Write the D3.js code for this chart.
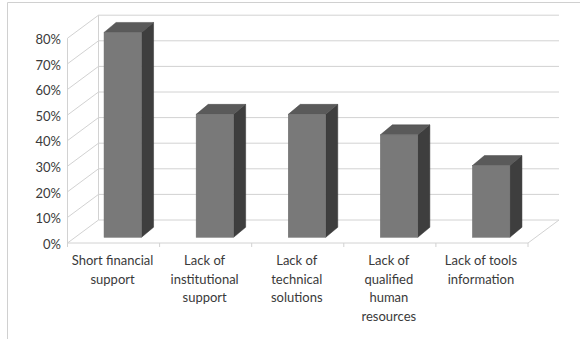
<!DOCTYPE html>
<html><head><meta charset="utf-8">
<script src="https://cdn.jsdelivr.net/npm/d3@7/dist/d3.min.js"></script>
<style>body{margin:0;background:#fff}svg{display:block}text{font-family:Lato,"Open Sans",sans-serif;fill:#3a3a3a}</style>
</head><body>
<script>
const categories = ["Short financial\nsupport", "Lack of\ninstitutional\nsupport", "Lack of\ntechnical\nsolutions", "Lack of\nqualified\nhuman\nresources", "Lack of tools\ninformation"];
const values = [0.80, 0.48, 0.48, 0.40, 0.28];
const yTicks = [0, 0.1, 0.2, 0.3, 0.4, 0.5, 0.6, 0.7, 0.8];

const W = 580, H = 339;
const svg = d3.select("body").append("svg").attr("width", W).attr("height", H);

// frame
svg.append("path").attr("d", `M7.5,${H} V2.5 H${W}`).attr("fill","none").attr("stroke","#d0d0d0").attr("stroke-width",1);

const x0 = 67.5, x1 = 528, yBase = 243, yTop = 38.2;
const DX = 31, DY = -23;
const x = d3.scaleBand().domain(categories).range([x0, x1]).paddingInner(0).paddingOuter(0);
const y = d3.scaleLinear().domain([0, 0.8]).range([yBase, yTop]);

const grid = svg.append("g").attr("stroke","#d2d2d2").attr("stroke-width",1).attr("fill","none");
// back wall gridlines
yTicks.forEach(t => {
  grid.append("line").attr("x1", x0+DX).attr("x2", x1+DX).attr("y1", y(t)+DY).attr("y2", y(t)+DY);
  grid.append("line").attr("x1", x0).attr("x2", x0+DX).attr("y1", y(t)).attr("y2", y(t)+DY);
});
// walls
grid.append("line").attr("x1", x0+DX).attr("x2", x0+DX).attr("y1", y(0.8)+DY).attr("y2", y(0)+DY);
grid.append("line").attr("x1", x0).attr("x2", x0).attr("y1", y(0.8)).attr("y2", y(0));
grid.append("line").attr("x1", x0).attr("x2", x1).attr("y1", y(0)).attr("y2", y(0));
grid.append("line").attr("x1", x1).attr("x2", x1+DX).attr("y1", y(0)).attr("y2", y(0)+DY);
// category ticks
const tickXs = categories.map(c => x(c)).concat([x1]);
tickXs.forEach(tx => grid.append("line").attr("x1", tx).attr("x2", tx).attr("y1", y(0)).attr("y2", y(0)+4));

// y labels
svg.append("g").selectAll("text").data(yTicks).join("text")
  .attr("x", 61).attr("y", d => y(d)+2.5).attr("text-anchor","end").attr("dominant-baseline","middle")
  .attr("font-size", 13).text(d3.format(".0%"));

// bars
const fd = 0.25; // front depth fraction
const bw = 37.5, bdx = 12, bdy = -10;
const bars = svg.append("g");
categories.forEach((c, i) => {
  const cx = x(c) + x.bandwidth()/2 + DX*fd + 1.5;
  const l = cx - bw/2, r = cx + bw/2;
  const yb = y(0) + DY*fd, yt = y(values[i]) + DY*fd;
  // side
  bars.append("path").attr("d", `M${r},${yb} L${r+bdx},${yb+bdy} L${r+bdx},${yt+bdy} L${r},${yt} Z`).attr("fill","#3e3e3e").attr("stroke","#333").attr("stroke-width",0.5);
  // top
  bars.append("path").attr("d", `M${l},${yt} L${l+bdx},${yt+bdy} L${r+bdx},${yt+bdy} L${r},${yt} Z`).attr("fill","#5a5a5a").attr("stroke","#4a4a4a").attr("stroke-width",0.5);
  // front
  bars.append("rect").attr("x", l).attr("y", yt).attr("width", bw).attr("height", yb-yt).attr("fill","#797979").attr("stroke","#6a6a6a").attr("stroke-width",0.5);
});

// category labels
const lab = svg.append("g");
categories.forEach(c => {
  const t = lab.append("text").attr("text-anchor","middle").attr("font-size",13);
  c.split("\n").forEach((s, j) => {
    t.append("tspan").attr("x", x(c)+x.bandwidth()/2 - 1).attr("y", 262 + j*18.5).attr("dominant-baseline","middle").text(s);
  });
});
</script>
</body></html>
